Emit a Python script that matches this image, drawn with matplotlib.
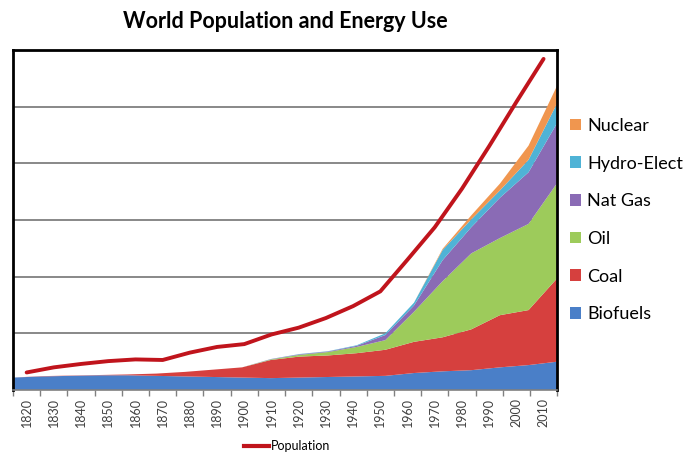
import matplotlib.pyplot as plt
import numpy as np
from matplotlib.patches import Patch
from matplotlib.lines import Line2D

# data (arbitrary units, 1 unit = one gridline step)
years = [1820, 1830, 1840, 1850, 1860, 1870, 1880, 1890, 1900, 1910,
         1920, 1930, 1940, 1950, 1960, 1970, 1980, 1990, 2000, 2010]
biofuels = [0.22, 0.24, 0.25, 0.26, 0.26, 0.25, 0.24, 0.23, 0.22, 0.21,
            0.22, 0.23, 0.24, 0.25, 0.30, 0.33, 0.35, 0.40, 0.44, 0.50]
coal = [0.00, 0.005, 0.005, 0.005, 0.015, 0.04, 0.08, 0.13, 0.18, 0.32,
        0.37, 0.38, 0.41, 0.46, 0.55, 0.60, 0.72, 0.92, 0.97, 1.47]
oil = [0, 0, 0, 0, 0, 0, 0, 0, 0, 0.01,
       0.03, 0.06, 0.11, 0.17, 0.53, 0.99, 1.34, 1.36, 1.52, 1.68]
nat_gas = [0, 0, 0, 0, 0, 0, 0, 0, 0, 0.005,
           0.01, 0.01, 0.02, 0.09, 0.11, 0.37, 0.46, 0.71, 0.91, 1.06]
hydro = [0, 0, 0, 0, 0, 0, 0, 0, 0, 0.002,
         0.005, 0.005, 0.01, 0.03, 0.05, 0.18, 0.14, 0.13, 0.22, 0.35]
nuclear = [0, 0, 0, 0, 0, 0, 0, 0, 0, 0,
           0, 0, 0, 0, 0, 0.02, 0.07, 0.12, 0.25, 0.31]
population = [0.31, 0.40, 0.46, 0.51, 0.54, 0.53, 0.66, 0.76, 0.81, 0.98,
              1.10, 1.27, 1.48, 1.74, 2.30, 2.87, 3.55, 4.30, 5.08, 5.84]

series_names = ["Biofuels", "Coal", "Oil", "Nat Gas", "Hydro-Elect", "Nuclear"]
series_colors = ["#4a7fc8", "#d6403e", "#9dcb5b", "#8a6bb5", "#4fb3d6", "#f0964f"]

plt.rcParams['font.family'] = ['Lato', 'DejaVu Sans']

fig = plt.figure(figsize=(6.87, 4.53), dpi=100)
ax = fig.add_axes([0.019, 0.139, 0.792, 0.751])

n = len(years)
x_line = np.arange(n)
# area chart runs edge to edge, the line sits on category centres
x_area = np.linspace(-0.5, n - 0.5, n)

ax.stackplot(x_area, biofuels, coal, oil, nat_gas, hydro, nuclear,
             colors=series_colors, zorder=2)
ax.plot(x_line, population, color='#c0141c', lw=2.8, zorder=4,
        solid_capstyle='round', solid_joinstyle='round')

ax.set_xlim(-0.5, n - 0.5)
ax.set_ylim(0, 6)

# gridlines behind the areas
ax.set_yticks([1, 2, 3, 4, 5])
ax.yaxis.grid(True, color='#7f7f7f', lw=1.3)
ax.set_axisbelow(True)
ax.tick_params(axis='y', length=0, labelleft=False)

ax.set_xticks(x_line)
ax.set_xticklabels([str(y) for y in years], rotation=90, fontsize=9, color='#404040')
ax.set_xticks(np.arange(-0.5, n), minor=True)
ax.tick_params(axis='x', which='major', length=0, pad=6)
ax.tick_params(axis='x', which='minor', length=4, color='#808080', width=1)

for side in ['left', 'top', 'right']:
    ax.spines[side].set_color('black')
    ax.spines[side].set_linewidth(2)
ax.spines['bottom'].set_color('#808080')
ax.spines['bottom'].set_linewidth(1.2)

fig.text(0.415, 0.953, "World Population and Energy Use", ha='center', va='center',
         fontsize=15.5, fontweight='bold')

handles = [Patch(facecolor=c, edgecolor='none') for c in series_colors][::-1]
fig.legend(handles, series_names[::-1], loc='center left',
           bbox_to_anchor=(570 / 687, 1 - 220 / 453), frameon=False,
           fontsize=13, handlelength=0.6, handleheight=0.6, handletextpad=0.35,
           labelspacing=1.2, borderaxespad=0, borderpad=0)

fig.legend([Line2D([], [], color='#c0141c', lw=3)], ['Population'], loc='center',
           bbox_to_anchor=(287 / 687, 1 - 446 / 453), frameon=False,
           fontsize=9, handlelength=2.0, handletextpad=0.1, borderpad=0)

fig.savefig('out.png', dpi=100)
